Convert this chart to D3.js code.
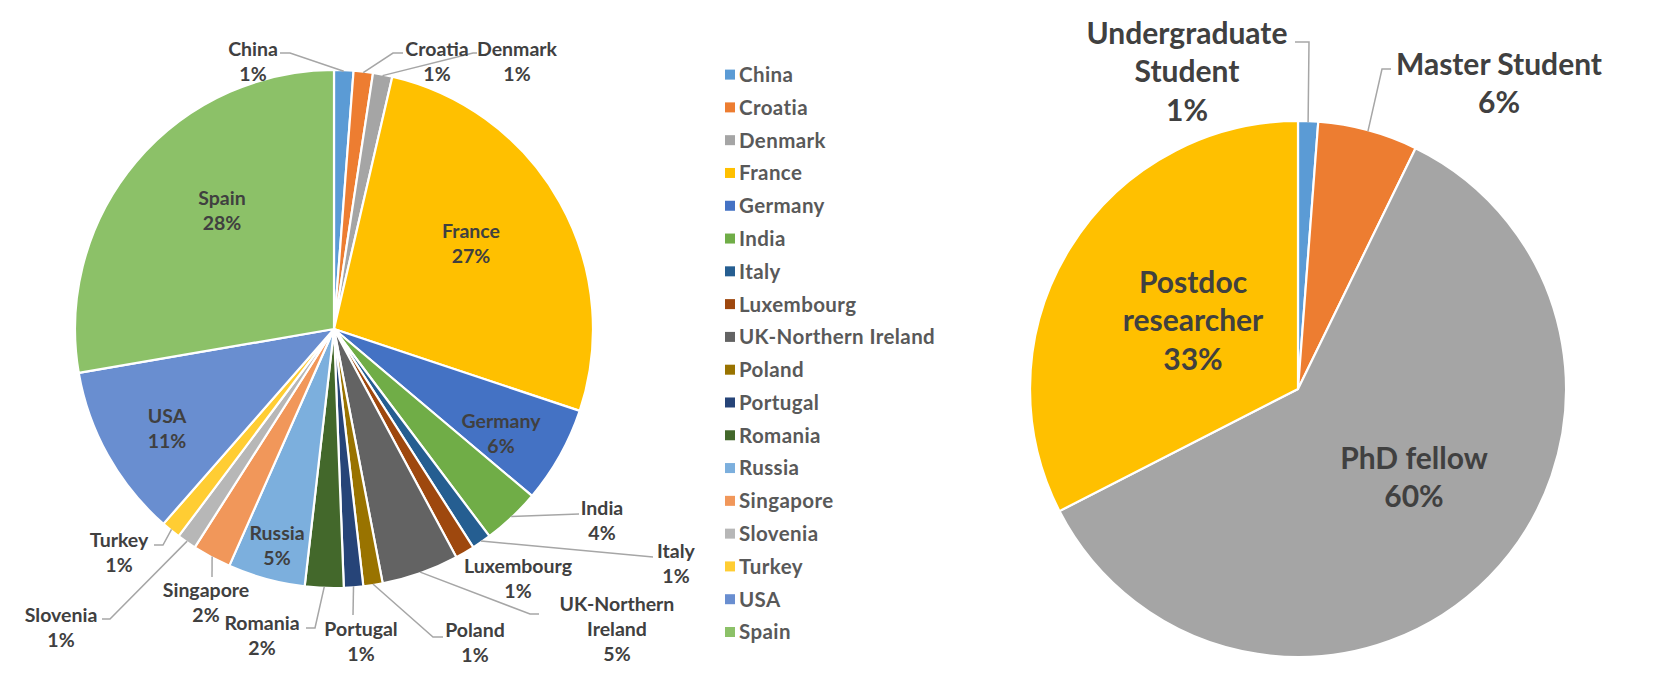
<!DOCTYPE html>
<html><head><meta charset="utf-8">
<script src="https://cdn.jsdelivr.net/npm/d3@7"></script>
<style>
body{margin:0;background:#fff}
svg text{font-family:Lato,"Open Sans",sans-serif;font-weight:700}
</style></head>
<body><svg id="chart" width="1671" height="680"></svg>
<script>
// ---------- data ----------
const countries = ["China","Croatia","Denmark","France","Germany","India","Italy","Luxembourg","UK-Northern Ireland","Poland","Portugal","Romania","Russia","Singapore","Slovenia","Turkey","USA","Spain"];
const countryCounts = [1,1,1,22,5,3,1,1,4,1,1,2,4,2,1,1,9,23];
const countryColors = ["#5B9BD5","#ED7D31","#A5A5A5","#FFC000","#4472C4","#70AD47","#255E91","#9E480E","#636363","#997300","#264478","#43682B","#7CAFDD","#F1975A","#B7B7B7","#FFCD33","#698ED0","#8CC168"];

const roles = ["Undergraduate Student","Master Student","PhD fellow","Postdoc researcher"];
const roleCounts = [1,5,50,27];
const roleColors = ["#5B9BD5","#ED7D31","#A5A5A5","#FFC000"];

// ---------- layout (label placement relative to pie centre) ----------
const leftLayout = {
  "China":{lines:["China"],x:-81,y:-280,elbow:[-44,-276],end:[-54,-276]},
  "Croatia":{lines:["Croatia"],x:103,y:-280,elbow:[59,-276],end:[69,-276]},
  "Denmark":{lines:["Denmark"],x:183,y:-280,elbow:[139,-276],end:[143,-276]},
  "France":{lines:["France"],x:137,y:-98},
  "Germany":{lines:["Germany"],x:167,y:92},
  "India":{lines:["India"],x:268,y:179,elbow:[245,185],end:[245,185]},
  "Italy":{lines:["Italy"],x:342,y:222,elbow:[319,228],end:[319,228]},
  "Luxembourg":{lines:["Luxembourg"],x:184,y:237},
  "UK-Northern Ireland":{lines:["UK-Northern","Ireland"],x:283,y:275,elbow:[196,285],end:[205,285]},
  "Poland":{lines:["Poland"],x:141,y:301,elbow:[99,308],end:[109,308]},
  "Portugal":{lines:["Portugal"],x:27,y:300,elbow:[19,286],end:[19,286]},
  "Romania":{lines:["Romania"],x:-72,y:294,elbow:[-19,299],end:[-28,299]},
  "Russia":{lines:["Russia"],x:-57,y:204},
  "Singapore":{lines:["Singapore"],x:-128,y:261,elbow:[-122,248],end:[-122,248]},
  "Slovenia":{lines:["Slovenia"],x:-273,y:286,elbow:[-224,290],end:[-232,290]},
  "Turkey":{lines:["Turkey"],x:-215,y:211,elbow:[-171,216],end:[-180,216]},
  "USA":{lines:["USA"],x:-167,y:87},
  "Spain":{lines:["Spain"],x:-112,y:-131}
};
const rightLayout = {
  "Undergraduate Student":{lines:["Undergraduate","Student"],x:-111,y:-356,elbow:[11,-347],end:[-3,-347]},
  "Master Student":{lines:["Master Student"],x:201,y:-325,elbow:[84,-320],end:[93,-320]},
  "PhD fellow":{lines:["PhD fellow"],x:116,y:69},
  "Postdoc researcher":{lines:["Postdoc","researcher"],x:-105,y:-107}
};

const svg = d3.select("#chart");
const textColor = "#404040";
const leaderColor = "#A6A6A6";

function drawPie(cfg){
  const {names, counts, colors, cx, cy, r, layout, fontSize, lineH} = cfg;
  const total = d3.sum(counts);
  const data = names.map((n,i)=>({name:n,value:counts[i],color:colors[i]}));
  const pie = d3.pie().sort(null).value(d=>d.value);
  const arcs = pie(data);
  const arc = d3.arc().innerRadius(0).outerRadius(r);
  const g = svg.append("g").attr("transform",`translate(${cx},${cy})`);
  g.selectAll("path.slice").data(arcs).join("path")
    .attr("class","slice")
    .attr("d",arc)
    .attr("fill",d=>d.data.color)
    .attr("stroke","#fff").attr("stroke-width",2.2).attr("stroke-linejoin","round");

  // leaders
  arcs.forEach(a=>{
    const L = layout[a.data.name];
    if(!L.elbow) return;
    const mid = (a.startAngle+a.endAngle)/2;
    const sx = (r-1)*Math.sin(mid), sy = -(r-1)*Math.cos(mid);
    g.append("path")
      .attr("d",d3.line()([[sx,sy],L.elbow,L.end]))
      .attr("fill","none").attr("stroke",leaderColor).attr("stroke-width",1.5);
  });

  // labels
  arcs.forEach(a=>{
    const L = layout[a.data.name];
    const pct = Math.round(a.data.value/total*100)+"%";
    const lines = L.lines.concat([pct]);
    const t = g.append("text").attr("text-anchor","middle")
      .attr("fill",textColor).attr("font-size",fontSize);
    lines.forEach((s,i)=>{
      t.append("tspan").attr("x",L.x).attr("y",L.y+i*lineH).attr("dy","0.35em").text(s);
    });
  });
}

drawPie({names:countries,counts:countryCounts,colors:countryColors,cx:334,cy:329,r:259,layout:leftLayout,fontSize:19.5,lineH:25});
drawPie({names:roles,counts:roleCounts,colors:roleColors,cx:1298,cy:389,r:268,layout:rightLayout,fontSize:30,lineH:38.5});

// legend
const legY = d3.scalePoint().domain(countries).range([74.6,632]);
const leg = svg.append("g");
const items = leg.selectAll("g").data(countries.map((n,i)=>({name:n,color:countryColors[i]}))).join("g")
  .attr("transform",d=>`translate(725,${legY(d.name)})`);
items.append("rect").attr("x",0).attr("y",-5).attr("width",10).attr("height",10).attr("fill",d=>d.color);
items.append("text").attr("x",14).attr("dy","0.36em").attr("fill","#595959").attr("font-size",20.5)
  .attr("letter-spacing",0.4).text(d=>d.name);
</script></body></html>
